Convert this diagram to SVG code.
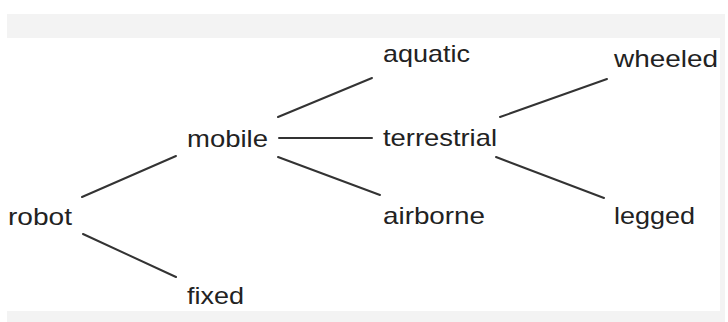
<svg xmlns="http://www.w3.org/2000/svg" width="728" height="322" viewBox="0 0 728 322">
  <style>
    .lbl { font-family: "Liberation Sans", Arial, sans-serif; font-size: 24px; fill: #222; }
    .edge { stroke: #333; stroke-width: 2; stroke-linecap: round; fill: none; }
  </style>
  <!-- page frame -->
  <rect x="0" y="0" width="728" height="322" fill="#ffffff"/>
  <rect x="7" y="14" width="718" height="308" fill="#f3f3f3"/>
  <rect x="7" y="38" width="713" height="273" fill="#ffffff"/>

  <!-- connectors -->
  <g id="connectors">
    <line class="edge" x1="82" y1="197" x2="176" y2="156"/>
    <line class="edge" x1="83" y1="234" x2="176" y2="277"/>
    <line class="edge" x1="278" y1="117" x2="372" y2="78"/>
    <line class="edge" x1="279" y1="138" x2="372" y2="138"/>
    <line class="edge" x1="278" y1="157" x2="380" y2="195"/>
    <line class="edge" x1="500" y1="117" x2="607" y2="79"/>
    <line class="edge" x1="496" y1="157" x2="604" y2="198"/>
  </g>

  <!-- nodes -->
  <g id="robot"><text class="lbl" x="8" y="225" textLength="64" lengthAdjust="spacingAndGlyphs">robot</text></g>
  <g id="fixed"><text class="lbl" x="187" y="304" textLength="57" lengthAdjust="spacingAndGlyphs">fixed</text></g>
  <g id="mobile"><text class="lbl" x="187" y="147" textLength="81" lengthAdjust="spacingAndGlyphs">mobile</text></g>
  <g id="aquatic"><text class="lbl" x="383" y="62" textLength="87" lengthAdjust="spacingAndGlyphs">aquatic</text></g>
  <g id="terrestrial"><text class="lbl" x="383" y="146" textLength="114" lengthAdjust="spacingAndGlyphs">terrestrial</text></g>
  <g id="airborne"><text class="lbl" x="383" y="224" textLength="102" lengthAdjust="spacingAndGlyphs">airborne</text></g>
  <g id="wheeled"><text class="lbl" x="614" y="67" textLength="104" lengthAdjust="spacingAndGlyphs">wheeled</text></g>
  <g id="legged"><text class="lbl" x="614" y="224" textLength="81" lengthAdjust="spacingAndGlyphs">legged</text></g>
</svg>
